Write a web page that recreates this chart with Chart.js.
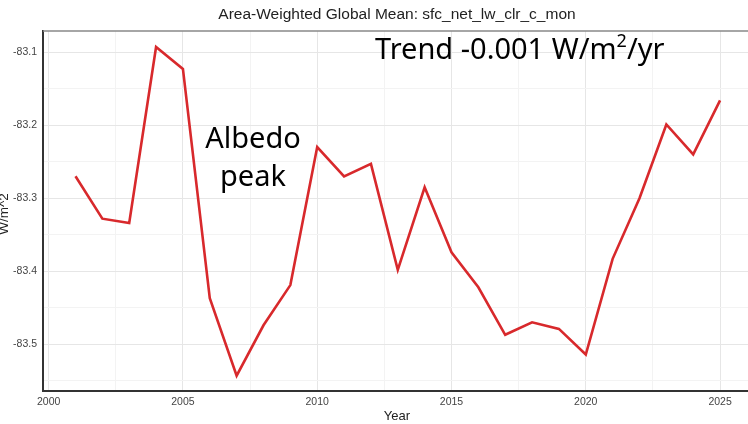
<!DOCTYPE html>
<html>
<head>
<meta charset="utf-8">
<script src="https://cdn.jsdelivr.net/npm/chart.js@4/dist/chart.umd.min.js"></script>
<style>
  html, body { margin: 0; padding: 0; background: #fff; }
  #wrap { width: 748px; height: 424px; }
</style>
</head>
<body>
<div id="wrap"><canvas id="lwChart" width="748" height="424"></canvas></div>
<script>
const years = [2001, 2002, 2003, 2004, 2005, 2006, 2007, 2008, 2009, 2010, 2011, 2012, 2013,
  2014, 2015, 2016, 2017, 2018, 2019, 2020, 2021, 2022, 2023, 2024, 2025];
const fluxValues = [-83.270, -83.328, -83.334, -83.093, -83.123, -83.437, -83.543, -83.474, -83.419,
  -83.230, -83.270, -83.253, -83.398, -83.285, -83.374, -83.422, -83.487, -83.470, -83.479,
  -83.514, -83.383, -83.300, -83.199, -83.240, -83.166];
const xTicks = [2000, 2002.5, 2005, 2007.5, 2010, 2012.5, 2015, 2017.5, 2020, 2022.5, 2025];
const yTicks = [-83.55, -83.5, -83.45, -83.4, -83.35, -83.3, -83.25, -83.2, -83.15, -83.1];

const titleText = 'Area-Weighted Global Mean: sfc_net_lw_clr_c_mon';

const isMajor = (v, step) => Math.abs(v / step - Math.round(v / step)) < 1e-6;

const overlayPlugin = {
  id: 'overlay',
  afterDraw(chart) {
    const ctx = chart.ctx;
    const area = chart.chartArea;
    ctx.save();
    // top border
    ctx.strokeStyle = '#888888';
    ctx.lineWidth = 1.5;
    ctx.beginPath();
    ctx.moveTo(area.left, area.top);
    ctx.lineTo(area.right, area.top);
    ctx.stroke();

    // title
    ctx.fillStyle = '#222222';
    ctx.font = '15.5px "Liberation Sans", Arial, sans-serif';
    ctx.textAlign = 'center';
    ctx.textBaseline = 'middle';
    ctx.fillText(titleText, 397, 15);

    // axis titles
    ctx.font = '13px "Liberation Sans", Arial, sans-serif';
    ctx.fillText('Year', 397, 416);
    ctx.save();
    ctx.translate(4, 214);
    ctx.rotate(-Math.PI / 2);
    ctx.font = '13.5px "Liberation Sans", Arial, sans-serif';
    ctx.fillText('W/m^2', 0, 0);
    ctx.restore();

    // annotations
    ctx.fillStyle = '#000000';
    ctx.textBaseline = 'alphabetic';
    ctx.textAlign = 'center';
    ctx.font = '29px "Noto Sans", "Open Sans", sans-serif';
    ctx.fillText('Albedo', 253, 148);
    ctx.fillText('peak', 253, 186);

    ctx.textAlign = 'left';
    let x = 375;
    const base = 59;
    const parts = [['Trend -0.001 W/m', 0], ['2', 1], ['/yr', 0]];
    parts.forEach(([t, sup]) => {
      ctx.font = sup ? '18px "Noto Sans", "Open Sans", sans-serif' : '29px "Noto Sans", "Open Sans", sans-serif';
      ctx.fillText(t, x, sup ? base - 12 : base);
      x += ctx.measureText(t).width;
    });
    ctx.restore();
  }
};

new Chart(document.getElementById('lwChart'), {
  type: 'line',
  data: {
    datasets: [{
      label: 'Global mean',
      data: years.map((y, i) => ({ x: y, y: fluxValues[i] })),
      borderColor: '#d8292c',
      borderWidth: 2.6,
      pointRadius: 0,
      fill: false,
      tension: 0
    }]
  },
  options: {
    responsive: false,
    animation: false,
    layout: { padding: { top: 31, right: 0, left: 0, bottom: 0 } },
    plugins: {
      legend: { display: false },
      tooltip: { enabled: false },
      title: { display: false }
    },
    scales: {
      x: {
        type: 'linear',
        min: 1999.79,
        max: 2026.04,
        afterBuildTicks: s => { s.ticks = xTicks.map(v => ({ value: v })); },
        afterFit: s => { s.height = 33; },
        ticks: {
          autoSkip: false,
          maxRotation: 0,
          padding: 5,
          color: '#444444',
          font: { family: '"Liberation Sans", Arial, sans-serif', size: 10.5 },
          callback: v => isMajor(v, 5) ? String(v) : ''
        },
        grid: {
          drawTicks: false,
          color: c => isMajor(c.tick.value, 5) ? '#e6e6e6' : '#f3f3f3',
          lineWidth: 1
        },
        border: { display: true, color: '#333333', width: 2 }
      },
      y: {
        min: -83.564,
        max: -83.071,
        afterBuildTicks: s => { s.ticks = yTicks.map(v => ({ value: v })); },
        afterFit: s => { s.width = 43; },
        ticks: {
          autoSkip: false,
          padding: 6,
          color: '#444444',
          font: { family: '"Liberation Sans", Arial, sans-serif', size: 10.5 },
          callback: v => isMajor(v, 0.1) ? v.toFixed(1) : ''
        },
        grid: {
          drawTicks: false,
          color: c => isMajor(c.tick.value, 0.1) ? '#e6e6e6' : '#f3f3f3',
          lineWidth: 1
        },
        border: { display: true, color: '#333333', width: 2 }
      }
    }
  },
  plugins: [overlayPlugin]
});
</script>
</body>
</html>
